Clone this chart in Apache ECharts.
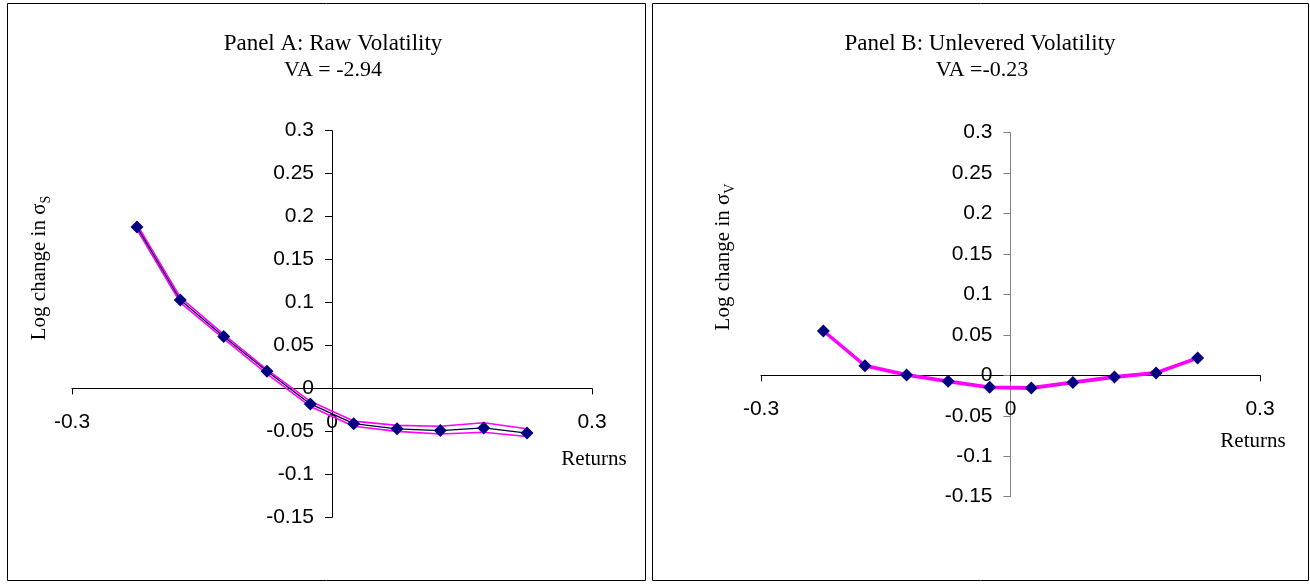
<!DOCTYPE html>
<html>
<head>
<meta charset="utf-8">
<script src="https://cdn.jsdelivr.net/npm/echarts@6/dist/echarts.min.js"></script>
<style>
html,body{margin:0;padding:0;background:#fff;}
#chart{width:1310px;height:585px;}
</style>
</head>
<body>
<div id="chart"></div>
<script>
// ---- data ----
var returns = [-0.225, -0.175, -0.125, -0.075, -0.025, 0.025, 0.075, 0.125, 0.175, 0.225];
var rawMean  = [0.188, 0.103, 0.0605, 0.020, -0.018, -0.041, -0.047, -0.049, -0.046, -0.052];
var rawUpper = [0.191, 0.106, 0.063, 0.022, -0.015, -0.038, -0.043, -0.044, -0.040, -0.047];
var rawLower = [0.185, 0.100, 0.058, 0.017, -0.021, -0.044, -0.050, -0.053, -0.051, -0.056];
var unlevMean  = [0.055, 0.012, 0.0005, -0.0074, -0.0148, -0.0156, -0.0087, -0.002, 0.003, 0.0215];
var unlevUpper = [0.056, 0.013, 0.0015, -0.0064, -0.0138, -0.0146, -0.0077, -0.001, 0.004, 0.0225];
var unlevLower = [0.054, 0.011, -0.0005, -0.0084, -0.0158, -0.0166, -0.0097, -0.003, 0.002, 0.0205];
var xTicks = [-0.3, 0, 0.3];
var yTicks = [-0.15, -0.1, -0.05, 0, 0.05, 0.1, 0.15, 0.2, 0.25, 0.3];
var titlesA = ['Panel A: Raw Volatility', 'VA = -2.94'];
var titlesB = ['Panel B: Unlevered Volatility', 'VA =-0.23'];

function pairs(xs, ys) { return xs.map(function (x, i) { return [x, ys[i]]; }); }
function fmt(v) { return String(+v.toFixed(2)); }

var SERIF = '"Liberation Serif", "Times New roman", serif';
var SANS = '"Liberation Sans", Arial, sans-serif';

// grid geometry (pixels)
var gA = { left: 72, top: 130.7, width: 520, height: 386.6 };
var gB = { left: 761, top: 132.7, width: 499, height: 364 };
var xMin = xTicks[0], xMax = xTicks[xTicks.length - 1];
var yMin = yTicks[0], yMax = yTicks[yTicks.length - 1];
// offsets that place each axis through the other axis' zero
function yOffset(g) { return -g.width * (0 - xMin) / (xMax - xMin); }
function xOffset(g) { return -g.height * (0 - yMin) / (yMax - yMin); }

function xAxisCfg(idx, g) {
  return {
    type: 'value', gridIndex: idx, position: 'bottom', offset: xOffset(g),
    min: xMin, max: xMax, interval: 0.3,
    splitLine: { show: false },
    axisLine: { onZero: false, lineStyle: { color: '#000', width: 1 } },
    axisTick: { show: true, length: 6, lineStyle: { color: '#000' } },
    axisLabel: { margin: 23, fontFamily: SANS, fontSize: 21, color: '#000', formatter: fmt }
  };
}
function yAxisCfg(idx, g, color) {
  return {
    type: 'value', gridIndex: idx, position: 'left', offset: yOffset(g),
    min: yMin, max: yMax, interval: 0.05,
    splitLine: { show: false },
    axisLine: { onZero: false, lineStyle: { color: color, width: 1 } },
    axisTick: { show: true, length: 7, lineStyle: { color: color } },
    axisLabel: { margin: 18, fontFamily: SANS, fontSize: 21, color: '#000', formatter: fmt }
  };
}

var chart = echarts.init(document.getElementById('chart'), null, { renderer: 'canvas' });

var yName = function (sub) {
  return { text: '{a|Log change in σ}{s|' + sub + '}', fill: '#000', textAlign: 'center', textVerticalAlign: 'middle',
    rich: { a: { fontFamily: SERIF, fontSize: 21, lineHeight: 24, verticalAlign: 'bottom' },
            s: { fontFamily: SERIF, fontSize: 14, lineHeight: 24, verticalAlign: 'bottom', padding: [0, 0, -3, 0] } } };
};

var option = {
  animation: false,
  backgroundColor: '#fff',
  grid: [gA, gB],
  xAxis: [xAxisCfg(0, gA), xAxisCfg(1, gB)],
  yAxis: [yAxisCfg(0, gA, '#000'), yAxisCfg(1, gB, '#808080')],
  graphic: [
    { type: 'rect', shape: { x: 7.5, y: 3.5, width: 638, height: 577 }, style: { fill: 'none', stroke: '#000', lineWidth: 1 }, z: 0 },
    { type: 'rect', shape: { x: 652.5, y: 3.5, width: 656, height: 577 }, style: { fill: 'none', stroke: '#000', lineWidth: 1 }, z: 0 },
    { type: 'text', x: 333, y: 44, style: { text: titlesA[0], font: '23px ' + SERIF, fill: '#000', textAlign: 'center', textVerticalAlign: 'middle' } },
    { type: 'text', x: 333, y: 70, style: { text: titlesA[1], font: '22px ' + SERIF, fill: '#000', textAlign: 'center', textVerticalAlign: 'middle' } },
    { type: 'text', x: 980, y: 44, style: { text: titlesB[0], font: '23px ' + SERIF, fill: '#000', textAlign: 'center', textVerticalAlign: 'middle' } },
    { type: 'text', x: 982, y: 70, style: { text: titlesB[1], font: '22px ' + SERIF, fill: '#000', textAlign: 'center', textVerticalAlign: 'middle' } },
    { type: 'text', x: 594, y: 459, style: { text: 'Returns', font: '21px ' + SERIF, fill: '#000', textAlign: 'center', textVerticalAlign: 'middle' } },
    { type: 'text', x: 1253, y: 441, style: { text: 'Returns', font: '21px ' + SERIF, fill: '#000', textAlign: 'center', textVerticalAlign: 'middle' } },
    { type: 'text', x: 38, y: 268, rotation: Math.PI / 2, style: yName('S') },
    { type: 'text', x: 722, y: 257, rotation: Math.PI / 2, style: yName('V') }
  ],
  series: [
    // Panel A
    { type: 'line', xAxisIndex: 0, yAxisIndex: 0, data: pairs(returns, rawUpper), showSymbol: false, symbol: 'none', z: 2,
      lineStyle: { color: '#FF00FF', width: 1.6 } },
    { type: 'line', xAxisIndex: 0, yAxisIndex: 0, data: pairs(returns, rawLower), showSymbol: false, symbol: 'none', z: 2,
      lineStyle: { color: '#FF00FF', width: 1.6 } },
    { type: 'line', xAxisIndex: 0, yAxisIndex: 0, data: pairs(returns, rawMean), showSymbol: false, symbol: 'none', z: 3,
      lineStyle: { color: '#000040', width: 1.2 } },
    { type: 'scatter', xAxisIndex: 0, yAxisIndex: 0, data: pairs(returns, rawMean), symbol: 'diamond', symbolSize: 13, z: 5,
      itemStyle: { color: '#000080', opacity: 1 } },
    // Panel B
    { type: 'line', xAxisIndex: 1, yAxisIndex: 1, data: pairs(returns, unlevMean), showSymbol: false, symbol: 'none', z: 2,
      lineStyle: { color: '#000080', width: 1 } },
    { type: 'line', xAxisIndex: 1, yAxisIndex: 1, data: pairs(returns, unlevUpper), showSymbol: false, symbol: 'none', z: 3,
      lineStyle: { color: '#FF00FF', width: 2.2 } },
    { type: 'line', xAxisIndex: 1, yAxisIndex: 1, data: pairs(returns, unlevLower), showSymbol: false, symbol: 'none', z: 3,
      lineStyle: { color: '#FF00FF', width: 2.2 } },
    { type: 'scatter', xAxisIndex: 1, yAxisIndex: 1, data: pairs(returns, unlevMean), symbol: 'diamond', symbolSize: 13, z: 5,
      itemStyle: { color: '#000080', opacity: 1 } }
  ]
};
chart.setOption(option);
</script>
</body>
</html>
